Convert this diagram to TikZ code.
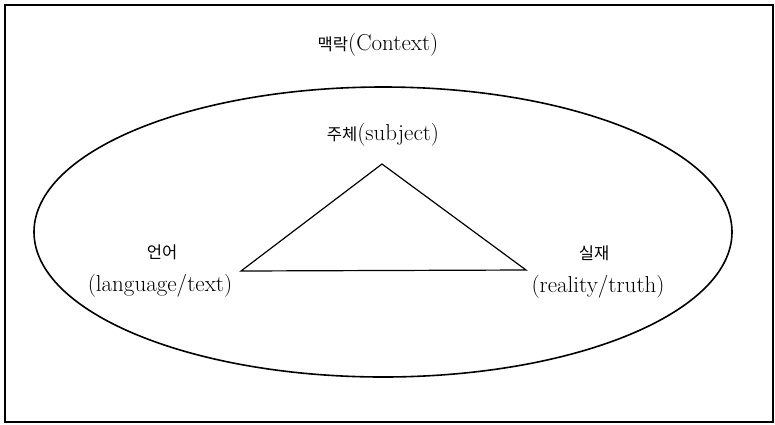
\documentclass[tikz,border=0pt]{standalone}
\usepackage{fontspec}
\newfontfamily\kor{Noto Sans CJK KR}[Scale=0.72]
\begin{document}
\begin{tikzpicture}[x=1pt,y=-1pt,font=\fontsize{23}{27}\selectfont]
	\useasboundingbox (0,0) rectangle (775,424);
	\draw[line width=1.5pt] (5,5) rectangle (773,422);
	\draw[line width=1.6pt] (383,232) ellipse [x radius=349, y radius=145];
	\coordinate (apex) at (382,164);
	\coordinate (lcorner) at (241,271);
	\coordinate (rcorner) at (526,270);
	\draw[line width=1.2pt] (apex) -- (lcorner) -- (rcorner) -- cycle;
	\node (context) at (378,45) {{\kor 맥락}(Context)};
	\node (subject) at (383,135) {{\kor 주체}(subject)};
	\node (lang) at (162,252) {\kor 언어};
	\node (langtext) at (160,286) {(language/text)};
	\node (real) at (594,253) {\kor 실재};
	\node (realtext) at (598,287) {(reality/truth)};
\end{tikzpicture}
\end{document}
